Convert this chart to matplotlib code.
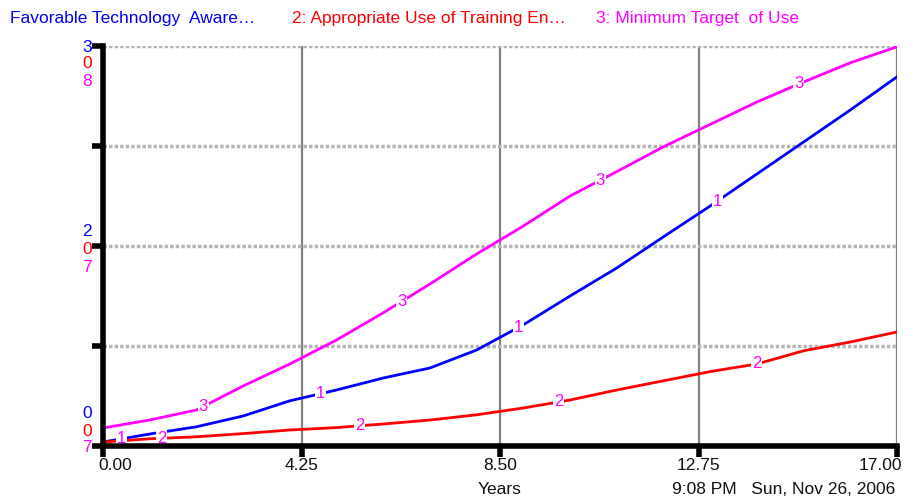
import matplotlib
matplotlib.use("Agg")
import matplotlib.pyplot as plt
import numpy as np

plt.rcParams['font.family'] = ['Liberation Sans', 'DejaVu Sans']

# time axis in years
years = [0, 1, 2, 3, 4, 5, 6, 7, 8, 9, 10, 11, 12, 13, 14, 15, 16, 17]

# each series is drawn on its own scale, stored here as a share of the axis height
awareness = [0.010, 0.030, 0.048, 0.075, 0.113, 0.140, 0.170, 0.195, 0.240,
             0.303, 0.375, 0.445, 0.523, 0.600, 0.680, 0.760, 0.840, 0.923]
training_use = [0.010, 0.018, 0.023, 0.031, 0.040, 0.046, 0.055, 0.065, 0.078,
                0.095, 0.115, 0.140, 0.163, 0.186, 0.205, 0.238, 0.260, 0.285]
target_use = [0.045, 0.065, 0.090, 0.150, 0.205, 0.265, 0.333, 0.405, 0.480,
              0.550, 0.625, 0.686, 0.748, 0.804, 0.860, 0.910, 0.958, 0.998]

series_names = ["Favorable Technology  Aware\u2026",
                "2: Appropriate Use of Training En\u2026",
                "3: Minimum Target  of Use"]
colors = ['#0000ff', '#ff0000', '#ff00ff']

x_ticks = [0.0, 4.25, 8.5, 12.75, 17.0]
x_ticklabels = ["0.00", "4.25", "8.50", "12.75", "17.00"]

# per-scale tick labels: top, middle, bottom (blue, red, magenta)
scale_top = ["3", "0", "8"]
scale_mid = ["2", "0", "7"]
scale_bot = ["0", "0", "7"]

FS = 12.5

fig = plt.figure(figsize=(9.18, 5.0), dpi=100)
ax = fig.add_axes([103 / 918, 54 / 500, 794 / 918, 400 / 500])

all_series = [awareness, training_use, target_use]
for vals, c in zip(all_series, colors):
    ax.plot(years, vals, color=c, lw=2.0, zorder=3)

# line number labels repeated along each curve
label_start = [0.4, 1.25, 2.15]
for i, vals in enumerate(all_series):
    for k in range(4):
        t = label_start[i] + k * 4.25
        y = np.interp(t, years, vals)
        ax.text(t, y, str(i + 1), color='#ff00ff', fontsize=12, ha='center', va='center',
                zorder=4, bbox=dict(boxstyle='square,pad=0.05', fc='white', ec='none'))

ax.set_xlim(0, 17)
ax.set_ylim(0, 1)
ax.set_xticks(x_ticks)
ax.set_yticks([0, 0.25, 0.5, 0.75, 1.0])
ax.set_xticklabels([])
ax.set_yticklabels([])

ax.xaxis.grid(True, color='#808080', lw=1.6, ls='-')
ax.yaxis.grid(True, color='#b4b4b4', lw=2.5, ls=(0, (1, 0.6)))
ax.set_axisbelow(True)

for s in ['top', 'right']:
    ax.spines[s].set_visible(False)
for s in ['left', 'bottom']:
    ax.spines[s].set_linewidth(4)
    ax.spines[s].set_color('black')
    ax.spines[s].set_zorder(5)
ax.tick_params(axis='both', direction='out', length=8, width=4, color='black')

# x tick labels
for t, lab in zip(x_ticks, x_ticklabels):
    ha = 'center'
    xx = t
    if t == 0:
        xx = 0.27
    if t == 17:
        ha = 'right'
        xx = 17.12
    ax.text(xx, -0.05, lab, ha=ha, va='center', fontsize=FS, color='#111111',
            transform=ax.transData, clip_on=False)

# stacked coloured scale labels at the left
def stack(labels, ys):
    for lab, y, c in zip(labels, ys, colors):
        fig.text(87 / 918, 1 - y / 500, lab, color=c, fontsize=FS, ha='center', va='center')

stack(scale_top, [47, 64, 81])
stack(scale_mid, [232, 249, 267])
stack(scale_bot, [413, 431, 448])

# legend row at the top
legend_x = [10, 292, 596]
for name, c, xp in zip(series_names, colors, legend_x):
    fig.text(xp / 918, 1 - 18 / 500, name, color=c, fontsize=FS, ha='left', va='center')

fig.text(500 / 918, 1 - 490 / 500, "Years", fontsize=FS, ha='center', va='center', color='#111111')
fig.text(672 / 918, 1 - 490 / 500, "9:08 PM   Sun, Nov 26, 2006", fontsize=FS,
         ha='left', va='center', color='#111111')

fig.savefig('out.png', dpi=100)
